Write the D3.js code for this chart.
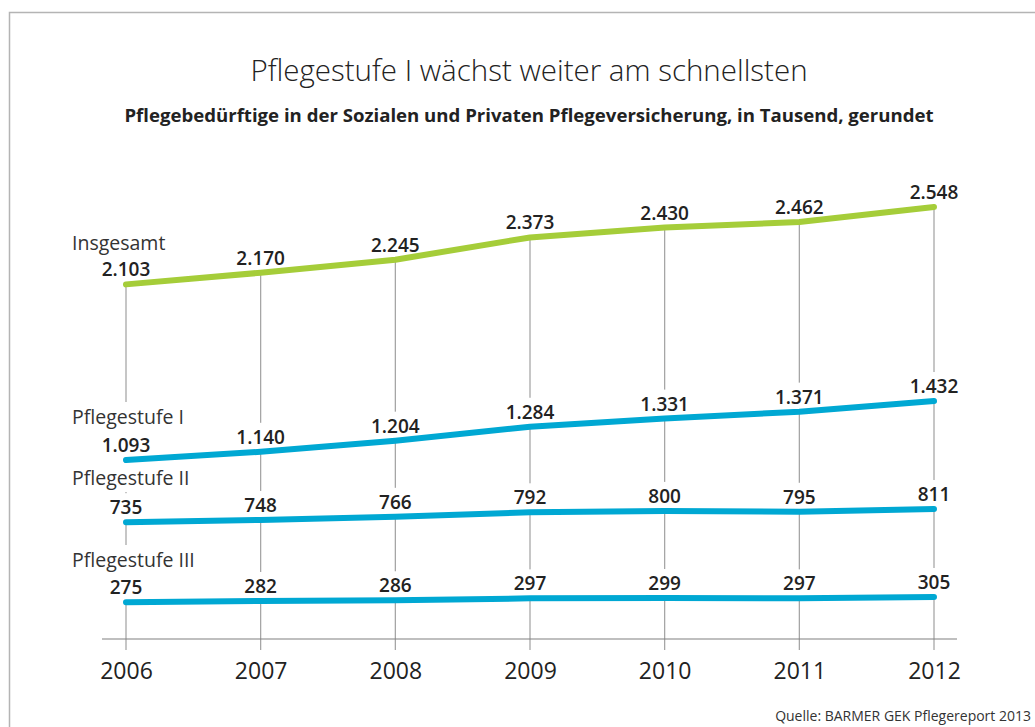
<!DOCTYPE html>
<html><head><meta charset="utf-8">
<script src="https://cdn.jsdelivr.net/npm/d3@7"></script>
<style>
html,body{margin:0;padding:0;background:#fff;}
svg{display:block;font-family:"Open Sans","Noto Sans",sans-serif;}
</style></head>
<body>
<svg id="chart" width="1035" height="727"></svg>
<script>
const years = [2006, 2007, 2008, 2009, 2010, 2011, 2012];
const insgesamt = [2103, 2170, 2245, 2373, 2430, 2462, 2548];
const stufe1 = [1093, 1140, 1204, 1284, 1331, 1371, 1432];
const stufe2 = [735, 748, 766, 792, 800, 795, 811];
const stufe3 = [275, 282, 286, 297, 299, 297, 305];
const seriesNames = ["Insgesamt", "Pflegestufe I", "Pflegestufe II", "Pflegestufe III"];
const seriesColors = ["#a5cd39", "#00a8d3", "#00a8d3", "#00a8d3"];
const title = "Pflegestufe I wächst weiter am schnellsten";
const subtitle = "Pflegebedürftige in der Sozialen und Privaten Pflegeversicherung, in Tausend, gerundet";
const source = "Quelle: BARMER GEK Pflegereport 2013";

const series = [insgesamt, stufe1, stufe2, stufe3];
const fmt = v => d3.format(",")(v).replace(/,/g, ".");

const svg = d3.select("#chart");
const x = d3.scaleLinear().domain([2006, 2012]).range([126, 934]);
const y = d3.scaleLinear().domain([0, 2548]).range([650, 207]);
const axisY = 639;

// frame
svg.append("rect").attr("x", 9.5).attr("y", 12.5).attr("width", 1100).attr("height", 800)
  .attr("fill", "none").attr("stroke", "#b4b4b4").attr("stroke-width", 1.5);

// titles
svg.append("text").attr("x", 529).attr("y", 81).attr("text-anchor", "middle")
  .attr("font-size", 29.5).attr("font-weight", 300).attr("fill", "#222").text(title);
svg.append("text").attr("x", 529).attr("y", 122).attr("text-anchor", "middle")
  .attr("font-size", 18.6).attr("font-weight", 700).attr("fill", "#222").text(subtitle);

// vertical guides
const gGuides = svg.append("g");
years.forEach((yr, i) => {
  gGuides.append("line").attr("x1", x(yr)).attr("x2", x(yr))
    .attr("y1", y(insgesamt[i])).attr("y2", 650)
    .attr("stroke", "#a0a0a0").attr("stroke-width", 1.2);
});

// axis
const axis = d3.axisBottom(x).tickValues(years).tickFormat(d3.format("d")).tickSize(0).tickPadding(24);
const gAxis = svg.append("g").attr("transform", `translate(0,${axisY})`).call(axis);
gAxis.select(".domain").remove();
gAxis.append("line").attr("x1", 102).attr("x2", 957).attr("y1", 0).attr("y2", 0)
  .attr("stroke", "#808080").attr("stroke-width", 1.2);
gAxis.selectAll(".tick text").attr("font-size", 23).attr("fill", "#222")
  .attr("font-family", "'Open Sans','Noto Sans',sans-serif").attr("font-weight", 400);

const gBg = svg.append("g");
const gText = svg.append("g");

function addLabel(txt, xx, yy, anchor, size, weight, color, pad) {
  const t = gText.append("text").attr("x", xx).attr("y", yy).attr("text-anchor", anchor)
    .attr("font-size", size).attr("font-weight", weight).attr("fill", color).text(txt);
  const b = t.node().getBBox();
  gBg.append("rect").attr("x", b.x - pad).attr("y", b.y - pad)
    .attr("width", b.width + 2 * pad).attr("height", b.height + 2 * pad).attr("fill", "#fff");
  return t;
}

// series names
const nameY = [250, 424, 485, 567];
seriesNames.forEach((n, k) => {
  addLabel(n, 72, nameY[k], "start", 19.5, 400, "#333", 1);
});

// value labels
series.forEach((vals, k) => {
  vals.forEach((v, i) => {
    addLabel(fmt(v), x(years[i]), y(v) - 8, "middle", 19, 600, "#222", 1);
  });
});

// lines
const line = d3.line().x((d, i) => x(years[i])).y(d => y(d));
series.forEach((vals, k) => {
  svg.append("path").datum(vals).attr("d", line).attr("fill", "none")
    .attr("stroke", seriesColors[k]).attr("stroke-width", 6)
    .attr("stroke-linecap", "round").attr("stroke-linejoin", "round");
});

// source
svg.append("text").attr("x", 1031).attr("y", 721).attr("text-anchor", "end").attr("font-size", 14)
  .attr("fill", "#333").text(source);
</script>
</body></html>
